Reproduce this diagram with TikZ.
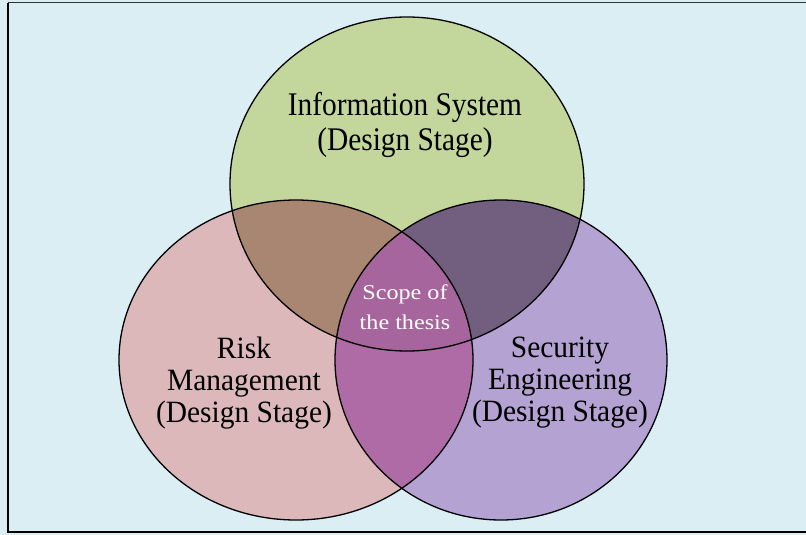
\documentclass[tikz,border=0pt]{standalone}
\usepackage{fontspec}
\setmainfont{Liberation Serif}
\definecolor{bgblue}{HTML}{DBEEF3}
\definecolor{cgreen}{HTML}{C3D69B}
\definecolor{cpink}{HTML}{DCB8BA}
\definecolor{cpurple}{HTML}{B3A2D2}
\definecolor{cgp}{HTML}{A88672}
\definecolor{cgu}{HTML}{725E7F}
\definecolor{cpu}{HTML}{AE6BA6}
\definecolor{cmid}{HTML}{A6659C}
\tikzset{
  lbl/.style={align=center, inner sep=0pt, text=black, xscale=0.95, transform shape, font=\fontsize{31}{32}\selectfont},
  toplbl/.style={align=center, inner sep=0pt, text=black, xscale=0.89, transform shape, font=\fontsize{33}{35}\selectfont},
  scopelbl/.style={align=center, inner sep=0pt, text=white, xscale=1.15, transform shape, font=\fontsize{21}{30}\selectfont},
  outline/.style={draw=black, line width=1.3pt}
}
\begin{document}
\begin{tikzpicture}[x=1pt,y=-1pt]
\useasboundingbox (0,0) rectangle (806,535);
\fill[bgblue] (0,0) rectangle (806,535);
\draw[line width=1pt, black!80] (806,3) -- (8,3);
\draw[line width=1.8pt, black] (8,3) -- (8,532) -- (806,532);
\def\G{(407,184) ellipse [x radius=177, y radius=167]}
\def\P{(296,360) ellipse [x radius=177, y radius=160]}
\def\U{(501,360) ellipse [x radius=166, y radius=160]}
\fill[cgreen] \G;
\fill[cpink] \P;
\fill[cpurple] \U;
\begin{scope}\clip \G; \fill[cgp] \P; \fill[cgu] \U; \end{scope}
\begin{scope}\clip \P; \fill[cpu] \U; \end{scope}
\begin{scope}\clip \G; \clip \P; \fill[cmid] \U; \end{scope}
\draw[outline] \G;
\draw[outline] \P;
\draw[outline] \U;
\node[toplbl] (info) at (405,125) {Information System\\(Design Stage)};
\node[lbl] (risk) at (244,383) {Risk\\Management\\(Design Stage)};
\node[lbl] (sec) at (560,383) {Security\\Engineering\\(Design Stage)};
\node[scopelbl] (scope) at (405,307) {Scope of\\the thesis};
\end{tikzpicture}
\end{document}
